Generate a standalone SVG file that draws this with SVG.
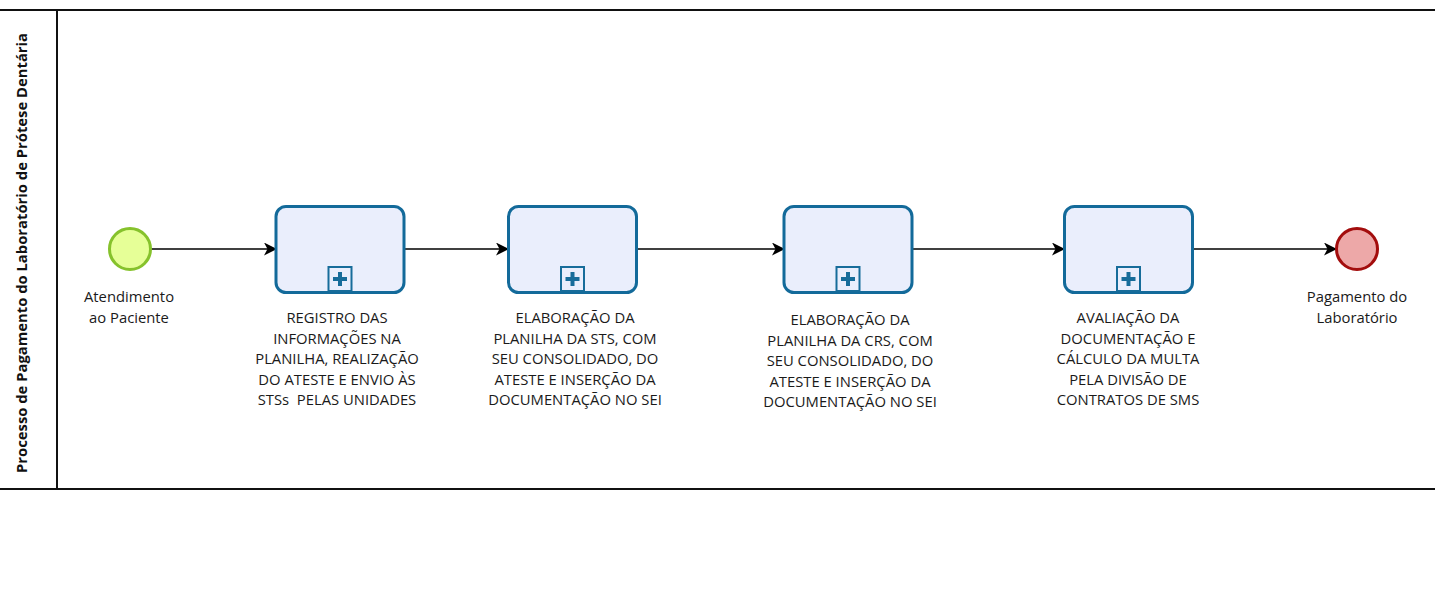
<svg xmlns="http://www.w3.org/2000/svg" width="1435" height="596" viewBox="0 0 1435 596">
<defs>
<marker id="arr" markerWidth="13" markerHeight="13" refX="12" refY="6.5" orient="auto" markerUnits="userSpaceOnUse">
<path d="M0,0 L13,6.5 L0,13 L3.5,6.5 Z" fill="#000"/>
</marker>
<g id="sub">
<rect x="-11.5" y="-12" width="23" height="24" fill="#eaeefc" stroke="#176c9a" stroke-width="2"/>
<path d="M-2,-7 h4 v5 h5 v4 h-5 v5 h-4 v-5 h-5 v-4 h5 z" fill="#176c9a"/>
</g>
</defs>
<style>
.lane{fill:none;stroke:#111;stroke-width:2}
.task{fill:#eaeefc;stroke:#136a9a;stroke-width:3}
.lbl{font-family:"Open Sans","Noto Sans",sans-serif;font-size:14.8px;fill:#1a1a1a;text-anchor:middle}
.conn{stroke:#000;stroke-width:1.5;fill:none}
.pool{font-family:"Open Sans","Noto Sans",sans-serif;font-size:14.8px;font-weight:bold;fill:#111;text-anchor:middle}
</style>
<rect width="1435" height="596" fill="#fff"/>
<g id="pool">
<line class="lane" x1="0" y1="10" x2="1435" y2="10"/>
<line class="lane" x1="0" y1="489" x2="1435" y2="489"/>
<line class="lane" x1="57" y1="10" x2="57" y2="489"/>
<text class="pool" transform="translate(27,253) rotate(-90)">Processo de Pagamento do Laboratório de Prótese Dentária</text>
</g>
<g id="connectors">
<line class="conn" x1="151" y1="249" x2="276" y2="249" marker-end="url(#arr)"/>
<line class="conn" x1="404" y1="249" x2="508" y2="249" marker-end="url(#arr)"/>
<line class="conn" x1="637" y1="249" x2="784" y2="249" marker-end="url(#arr)"/>
<line class="conn" x1="912" y1="249" x2="1064" y2="249" marker-end="url(#arr)"/>
<line class="conn" x1="1193" y1="249" x2="1336" y2="249" marker-end="url(#arr)"/>
</g>
<g id="start">
<circle cx="130" cy="249" r="20.5" fill="#e6ff97" stroke="#86c22c" stroke-width="3"/>
<text class="lbl" x="129" y="302">Atendimento</text>
<text class="lbl" x="129" y="323">ao Paciente</text>
</g>
<g id="task1">
<rect class="task" x="276" y="206.5" width="128" height="86" rx="10"/>
<use href="#sub" x="340" y="279"/>
<text class="lbl" x="337" y="323">REGISTRO DAS</text>
<text class="lbl" x="337" y="343.5">INFORMAÇÕES NA</text>
<text class="lbl" x="337" y="364">PLANILHA, REALIZAÇÃO</text>
<text class="lbl" x="337" y="384.5">DO ATESTE E ENVIO ÀS</text>
<text class="lbl" x="337" y="405" xml:space="preserve">STSs  PELAS UNIDADES</text>
</g>
<g id="task2">
<rect class="task" x="508.5" y="206.5" width="128" height="86" rx="10"/>
<use href="#sub" x="572.5" y="279"/>
<text class="lbl" x="575" y="323">ELABORAÇÃO DA</text>
<text class="lbl" x="575" y="343.5">PLANILHA DA STS, COM</text>
<text class="lbl" x="575" y="364">SEU CONSOLIDADO, DO</text>
<text class="lbl" x="575" y="384.5">ATESTE E INSERÇÃO DA</text>
<text class="lbl" x="575" y="405">DOCUMENTAÇÃO NO SEI</text>
</g>
<g id="task3">
<rect class="task" x="784" y="206.5" width="128" height="86" rx="10"/>
<use href="#sub" x="848" y="279"/>
<text class="lbl" x="850" y="325">ELABORAÇÃO DA</text>
<text class="lbl" x="850" y="345.5">PLANILHA DA CRS, COM</text>
<text class="lbl" x="850" y="366">SEU CONSOLIDADO, DO</text>
<text class="lbl" x="850" y="386.5">ATESTE E INSERÇÃO DA</text>
<text class="lbl" x="850" y="407">DOCUMENTAÇÃO NO SEI</text>
</g>
<g id="task4">
<rect class="task" x="1064.5" y="206.5" width="128" height="86" rx="10"/>
<use href="#sub" x="1128.5" y="279"/>
<text class="lbl" x="1128" y="323">AVALIAÇÃO DA</text>
<text class="lbl" x="1128" y="343.5">DOCUMENTAÇÃO E</text>
<text class="lbl" x="1128" y="364">CÁLCULO DA MULTA</text>
<text class="lbl" x="1128" y="384.5">PELA DIVISÃO DE</text>
<text class="lbl" x="1128" y="405">CONTRATOS DE SMS</text>
</g>
<g id="end">
<circle cx="1357" cy="249" r="20.5" fill="#eda8a8" stroke="#a30d0d" stroke-width="3"/>
<text class="lbl" x="1357" y="302">Pagamento do</text>
<text class="lbl" x="1357" y="323">Laboratório</text>
</g>
</svg>
